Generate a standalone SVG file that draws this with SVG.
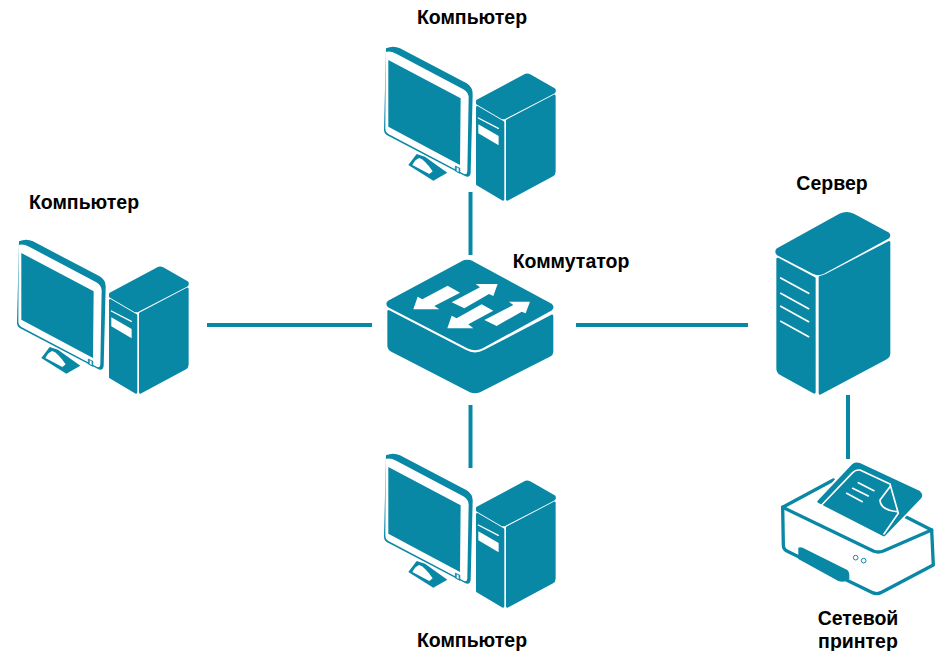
<svg xmlns="http://www.w3.org/2000/svg" xmlns:xlink="http://www.w3.org/1999/xlink" width="936" height="651" viewBox="0 0 936 651">
<style>
.t{fill:#0988a6;stroke:#0988a6;stroke-width:8;stroke-linejoin:round}
.f{fill:#0988a6}
.w{fill:#fff}
.wl{fill:none;stroke:#fff;stroke-width:5;stroke-linecap:round;stroke-linejoin:round}
.ol{fill:#fff;stroke:#0988a6;stroke-width:10;stroke-linejoin:round;stroke-linecap:round}
.c{stroke:#0988a6;stroke-width:4;fill:none}
text{font-family:"Liberation Sans",Arial,sans-serif;font-weight:bold;font-size:19.500px;fill:#000;text-anchor:middle}
</style>
<defs>
<g id="pc">
<path class="f" d="M48 55Q70 45 90 55L290 160Q310 172 308 195L302 428Q300 445 285 438L50 315Q42 310 42 300Z"/>
<path class="w" d="M47 66Q60 62 80 72L280 178Q297 188 296 205L292 425Q290 438 278 430L55 312Q46 307 46 298Z"/>
<path class="f" d="M55 90L272 205L270 405L55 290Z"/>
<path class="t" style="stroke-width:2" d="M256 408L270 415L269 430L256 423Z"/>
<path class="w" d="M260 412L266 415L266 426L260 423Z"/>
<path class="f" d="M115 405L140 372L165 380L232 428L190 452Z"/>
<path class="w" d="M127 405Q135 388 148 384Q165 390 188 424L178 432Z"/>
<path class="t" d="M322 213L465 136Q472 133 480 137L552 178Q556 184 550 188L405 263Q400 265 395 263L322 220Z"/>
<path class="t" d="M322 232L399 277L399 508L322 462Z"/>
<path class="t" d="M412 272L553 198L553 425Q553 432 546 436L412 508Z"/>
<path class="w" d="M325 283L386 318L386 346L325 310Z"/>
<path class="wl" style="stroke-width:4" d="M325 264L385 295"/>
</g>
</defs>
<g id="connectors">
<path class="c" d="M470.500 192V255"/>
<path class="c" d="M207 325H372"/>
<path class="c" d="M576 325H748"/>
<path class="c" d="M470.500 405V468"/>
<path class="c" d="M848 395V459"/>
</g>
<g id="pc-top" transform="translate(370 30) scale(.3333)"><use xlink:href="#pc" href="#pc"/></g>
<g id="pc-left" transform="translate(3 223) scale(.3333)"><use xlink:href="#pc" href="#pc"/></g>
<g id="pc-bottom" transform="translate(370 437) scale(.3333)"><use xlink:href="#pc" href="#pc"/></g>
<g id="switch" transform="translate(375 250) scale(.3333)">
<path class="t" d="M41 156L262 37Q277 30 292 37L528 165Q535 172 528 178L320 292Q300 302 280 292L41 168Q35 160 41 156Z"/>
<path class="t" d="M41 184L270 303Q300 320 330 303L531 198L531 305Q531 312 524 316L312 424Q300 428 288 424L48 300Q41 295 41 285Z"/>
<path class="w" d="M115 178L128 140L142 148L218 107L255 128L178 168L193 178Z"/>
<path class="w" d="M368 102L302 102L315 112L230 157L268 175L342 132L355 138Z"/>
<path class="w" d="M217 235L230 197L245 205L320 163L355 182L280 223L295 235Z"/>
<path class="w" d="M465 155L402 155L415 165L328 210L365 228L440 185L452 190Z"/>
</g>
<g id="server" transform="translate(765 205) scale(.3333)">
<path class="t" d="M38 133L225 30Q245 20 265 30L368 85Q376 92 368 98L175 203Q160 210 145 203L38 147Q32 140 38 133Z"/>
<path class="t" d="M38 162L148 220L148 562L45 505Q38 500 38 490Z"/>
<path class="t" d="M165 217Q175 215 185 210L372 112L372 445Q372 455 362 460L165 565Z"/>
<path class="wl" d="M47 219L131 265M47 265L131 311M47 304L131 350M47 349L131 395"/>
</g>
<g id="printer" transform="translate(770 455) scale(.3333)">
<path class="ol" d="M38 157L190 75L485 225L490 330L335 412Q320 420 305 412L55 290Q40 285 40 270Z"/>
<path class="ol" style="fill:none" d="M38 157L310 288Q325 294 340 288L485 225"/>
<path class="f" d="M85 278Q90 275 98 278L232 345Q238 350 238 360L238 372Q225 385 205 378L85 312Z"/>
<circle cx="257" cy="308" r="7" fill="#fff" stroke="#0988a6" stroke-width="3"/>
<circle cx="281" cy="317" r="7" fill="#fff" stroke="#0988a6" stroke-width="3"/>
<path class="w" d="M130 145L250 12L470 115L345 255Z"/>
<path class="t" d="M146 140L250 30Q258 24 268 28L448 112Q456 120 450 128L342 240Z"/>
<path class="wl" d="M155 150L248 53Q256 44 270 45L360 87L385 175L342 237"/>
<path class="wl" d="M360 95Q345 115 330 135Q330 165 382 170"/>
<path class="wl" d="M265 83L312 107M248 100L295 123M230 115L277 140"/>
</g>
<text x="472" y="24">Компьютер</text>
<text x="84" y="209">Компьютер</text>
<text x="571" y="268">Коммутатор</text>
<text x="832" y="190">Сервер</text>
<text x="472" y="647">Компьютер</text>
<text x="858" y="625">Сетевой</text>
<text x="858" y="648">принтер</text>
</svg>
